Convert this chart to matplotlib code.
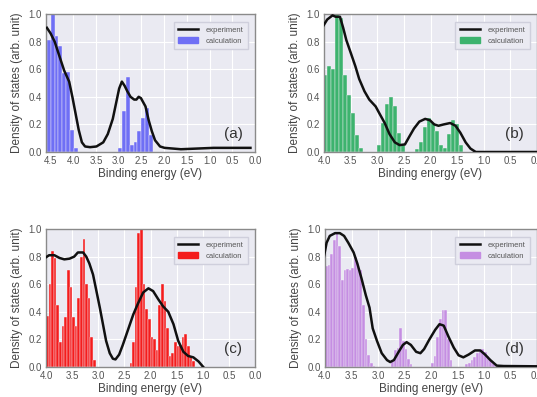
import numpy as np
import matplotlib
matplotlib.use('Agg')
import matplotlib.pyplot as plt
import matplotlib.patches as mpatches
from matplotlib.lines import Line2D

plt.rcParams['font.family'] = ['Liberation Sans', 'DejaVu Sans']

# ── Experimental spectra (binding energy, intensity) ─────────────────────────
exp_e_a = [4.58, 4.50, 4.41, 4.31, 4.20, 4.09, 4.02, 3.95, 3.88, 3.81, 3.74, 3.63,
           3.49, 3.34, 3.24, 3.13, 3.06, 2.99, 2.93, 2.87, 2.81, 2.74, 2.66, 2.61,
           2.56, 2.51, 2.41, 2.34, 2.27, 2.20, 2.09, 1.99, 1.63, 1.27, 0.91, 0.56, 0.10]
exp_y_a = [0.90, 0.86, 0.80, 0.70, 0.59, 0.51, 0.40, 0.28, 0.16, 0.07, 0.04, 0.035,
           0.04, 0.07, 0.13, 0.24, 0.35, 0.46, 0.51, 0.48, 0.44, 0.40, 0.38, 0.38,
           0.40, 0.39, 0.33, 0.23, 0.15, 0.085, 0.04, 0.03, 0.02, 0.025, 0.03, 0.03, 0.03]

exp_e_b = [4.02, 3.94, 3.84, 3.78, 3.70, 3.64, 3.58, 3.49, 3.41, 3.34, 3.24, 3.15,
           3.03, 2.96, 2.86, 2.77, 2.67, 2.58, 2.48, 2.40, 2.31, 2.21, 2.10, 2.01,
           1.93, 1.85, 1.75, 1.63, 1.53, 1.44, 1.34, 1.25, 1.15, 0.61, 0.0]
exp_y_b = [0.91, 0.96, 0.99, 0.98, 0.98, 0.90, 0.81, 0.71, 0.62, 0.53, 0.44, 0.38,
           0.33, 0.28, 0.21, 0.13, 0.07, 0.05, 0.055, 0.11, 0.17, 0.22, 0.24, 0.23,
           0.20, 0.19, 0.20, 0.21, 0.19, 0.14, 0.07, 0.025, 0.0, 0.0, 0.0]

exp_e_c = [4.02, 3.94, 3.84, 3.74, 3.65, 3.55, 3.46, 3.39, 3.29, 3.23, 3.17, 3.10,
           3.04, 2.97, 2.91, 2.85, 2.78, 2.72, 2.67, 2.60, 2.53, 2.43, 2.33, 2.24,
           2.14, 2.04, 1.95, 1.85, 1.76, 1.66, 1.56, 1.47, 1.37, 1.28, 1.18, 1.08, 0.99]
exp_y_c = [0.79, 0.81, 0.81, 0.79, 0.78, 0.785, 0.80, 0.83, 0.83, 0.80, 0.75, 0.67,
           0.56, 0.43, 0.31, 0.19, 0.10, 0.06, 0.055, 0.09, 0.16, 0.27, 0.38, 0.46,
           0.54, 0.57, 0.55, 0.49, 0.44, 0.40, 0.31, 0.19, 0.11, 0.08, 0.07, 0.04, 0.0]

exp_e_d = [4.02, 3.97, 3.91, 3.81, 3.72, 3.64, 3.56, 3.46, 3.39, 3.31, 3.23, 3.16,
           3.10, 3.02, 2.93, 2.83, 2.77, 2.70, 2.61, 2.53, 2.46, 2.38, 2.28, 2.20,
           2.13, 2.03, 1.92, 1.84, 1.76, 1.67, 1.57, 1.48, 1.39, 1.29, 1.17, 1.07,
           0.98, 0.88, 0.76, 0.63, 0.0]
exp_y_d = [0.80, 0.90, 0.95, 0.97, 0.97, 0.95, 0.90, 0.83, 0.75, 0.64, 0.52, 0.43,
           0.28, 0.19, 0.10, 0.05, 0.036, 0.05, 0.11, 0.16, 0.18, 0.16, 0.11, 0.10,
           0.13, 0.20, 0.27, 0.31, 0.30, 0.22, 0.14, 0.085, 0.07, 0.09, 0.12, 0.12,
           0.09, 0.05, 0.01, 0.007, 0.005]

# ── Calculated DOS histograms: first bin centre of each cluster + heights ────
calc_start_a = [4.54, 2.97]
calc_vals_a = [[0.81, 1.00, 0.84, 0.77, 0.57, 0.58, 0.16, 0.03],
               [0.03, 0.30, 0.54, 0.05, 0.07, 0.15, 0.25, 0.32, 0.12]]
calc_width_a = 0.085

calc_start_b = [3.98, 2.97, 2.25]
calc_vals_b = [[0.56, 0.62, 0.60, 1.00, 0.97, 0.56, 0.41, 0.28, 0.12, 0.03],
               [0.05, 0.21, 0.35, 0.40, 0.33, 0.14, 0.05],
               [0.02, 0.07, 0.18, 0.25, 0.21, 0.15, 0.05, 0.03, 0.13, 0.23, 0.20, 0.05]]
calc_width_b = 0.075

calc_start_c = [3.975, 2.375]
calc_vals_c = [[0.37, 0.60, 0.84, 0.79, 0.45, 0.18, 0.30, 0.36, 0.70, 0.58,
                0.36, 0.30, 0.50, 0.80, 0.93, 0.60, 0.50, 0.22, 0.05],
               [0.03, 0.18, 0.58, 0.97, 1.00, 0.60, 0.42, 0.35, 0.22, 0.20,
                0.12, 0.45, 0.60, 0.48, 0.28, 0.08, 0.10, 0.18, 0.15, 0.16,
                0.22, 0.24, 0.15, 0.08, 0.04]]
calc_width_c = 0.05

calc_start_d = [3.975, 2.725, 1.975, 1.325]
calc_vals_d = [[0.73, 0.74, 0.82, 0.92, 0.97, 0.88, 0.63, 0.70, 0.71, 0.70,
                0.72, 0.80, 0.74, 0.70, 0.45, 0.20, 0.09, 0.03, 0.01],
               [0.04, 0.12, 0.14, 0.28, 0.19, 0.13, 0.06, 0.02],
               [0.03, 0.08, 0.22, 0.35, 0.41, 0.41, 0.20, 0.05],
               [0.02, 0.03, 0.05, 0.07, 0.10, 0.12, 0.13, 0.11, 0.08, 0.05, 0.03, 0.01]]
calc_width_d = 0.05

panel_tags = ['(a)', '(b)', '(c)', '(d)']
x_max = [4.6, 4.0, 4.0, 4.0]

# ── Style ─────────────────────────────────────────────────────────────────────
AX_BG  = '#eaeaf2'
EDGE_C = '#8a8a8a'
TEXT_C = '#555555'
LABEL_C = '#444444'
BAR_C  = ['#6f6ff5', '#3db36e', '#f41c1c', '#c58ee2']

W, H = 537, 397
# axes boxes in pixels: left, right, top, bottom
BOXES = [(46, 255, 14, 152), (324, 537, 14, 152),
         (46, 255, 229, 367), (325, 537, 229, 367)]


def style_ax(ax):
    ax.set_facecolor(AX_BG)
    for s in ax.spines.values():
        s.set_color(EDGE_C)
        s.set_linewidth(1.0)
    ax.grid(True, color='white', linewidth=0.8, zorder=0)
    ax.set_axisbelow(True)
    ax.tick_params(length=0, pad=3, labelsize=7, colors=TEXT_C)


fig = plt.figure(figsize=(W / 100, H / 100), dpi=100, facecolor='white')

panels = [
    (exp_e_a, exp_y_a, calc_start_a, calc_vals_a, calc_width_a),
    (exp_e_b, exp_y_b, calc_start_b, calc_vals_b, calc_width_b),
    (exp_e_c, exp_y_c, calc_start_c, calc_vals_c, calc_width_c),
    (exp_e_d, exp_y_d, calc_start_d, calc_vals_d, calc_width_d),
]

for i, (ee, ey, starts, vals, bw) in enumerate(panels):
    l, r, t, b = BOXES[i]
    ax = fig.add_axes([l / W, (H - b) / H, (r - l) / W, (b - t) / H])
    style_ax(ax)

    for st, vv in zip(starts, vals):
        centres = st - bw * np.arange(len(vv))
        ax.bar(centres, vv, width=bw, color=BAR_C[i], edgecolor='#f4f0f8',
               linewidth=0.3, zorder=2)
    ax.plot(ee, ey, color='#111111', lw=1.8, zorder=3, solid_joinstyle='round')

    ax.set_xlim(x_max[i], 0.0)
    ax.set_ylim(0, 1.0)
    ax.set_xticks(np.arange(0, x_max[i] + 0.01, 0.5))
    ax.set_yticks(np.arange(0, 1.01, 0.2))
    ax.xaxis.set_major_formatter(matplotlib.ticker.FormatStrFormatter('%.1f'))
    ax.yaxis.set_major_formatter(matplotlib.ticker.FormatStrFormatter('%.1f'))
    ax.set_xlabel('Binding energy (eV)', fontsize=8.5, color=LABEL_C, labelpad=1)
    ax.set_ylabel('Density of states (arb. unit)', fontsize=8.5, color=LABEL_C,
                  labelpad=4)

    handles = [Line2D([0], [0], color='#111111', lw=1.8),
               mpatches.Patch(color=BAR_C[i])]
    leg = ax.legend(handles, ['experiment', 'calculation'], loc='upper right',
                    fontsize=5.5, frameon=True, fancybox=False, framealpha=1,
                    handlelength=2.6, handleheight=0.8, borderpad=0.6,
                    labelspacing=0.4, handletextpad=1.0,
                    bbox_to_anchor=(0.985, 0.97))
    leg.get_frame().set_edgecolor('#cfcfdc')
    leg.get_frame().set_facecolor(AX_BG)
    for txt in leg.get_texts():
        txt.set_color(TEXT_C)

    ax.text(0.94, 0.13, panel_tags[i], transform=ax.transAxes, ha='right',
            va='center', fontsize=11, color='#333333')

fig.savefig('out.png', dpi=100, facecolor='white')
